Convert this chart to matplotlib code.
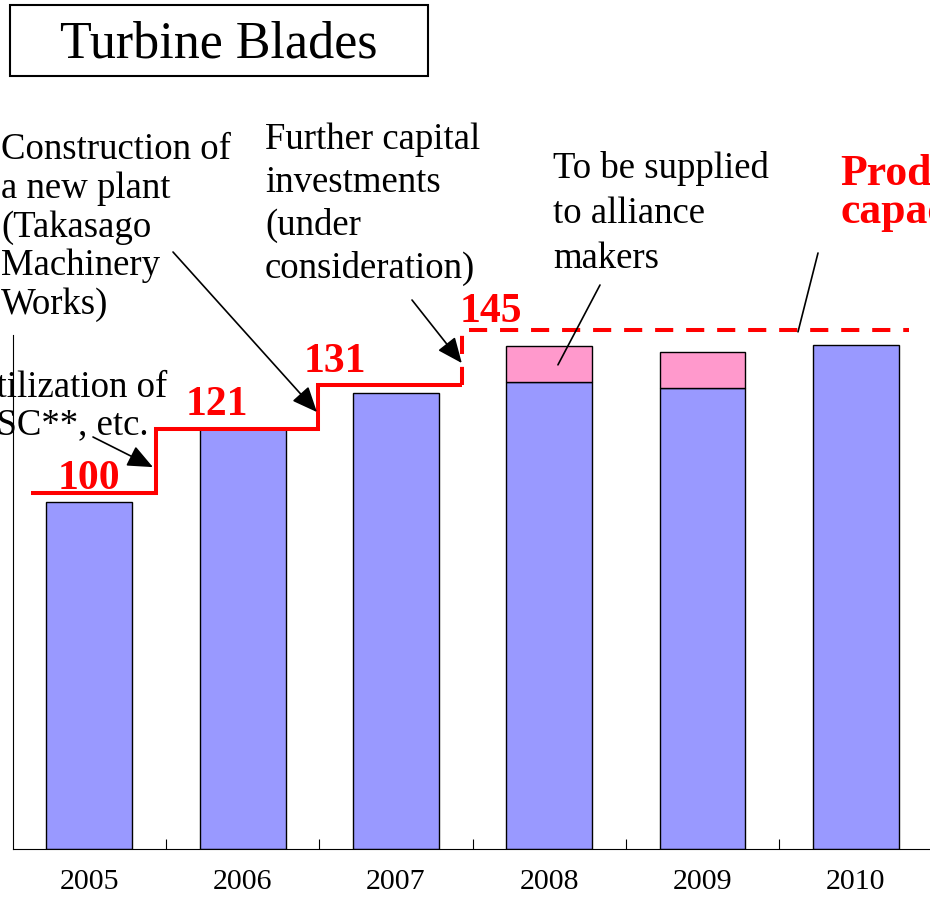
import matplotlib
matplotlib.use("Agg")
import matplotlib.pyplot as plt
from matplotlib.patches import Rectangle
import numpy as np

plt.rcParams["font.family"] = ["Liberation Serif", "DejaVu Serif"]

# data (index units)
years = ["2005", "2006", "2007", "2008", "2009", "2010"]
own_supply = [97.7, 118.0, 128.2, 131.5, 129.6, 141.8]
alliance_supply = [0, 0, 0, 10.1, 10.3, 0]
capacity_level = [100, 118.1, 130.5, 146.0]
capacity_label = ["100", "121", "131", "145"]
step_edges = [-0.38, 0.435, 1.49, 2.43, 5.35]

W, H = 930, 897


def fxy(px, py):
    # pixel position (from top-left) -> figure fraction
    return px / W, 1 - py / H


def block(lines, px, py0, gap, **kw):
    for i, s in enumerate(lines):
        x, y = fxy(px, py0 + i * gap)
        fig.text(x, y, s, va="baseline", ha="left", **kw)


fig = plt.figure(figsize=(W / 100, H / 100), dpi=100)
ax = fig.add_axes([12.65 / W, (H - 848.5) / H, 6 * 153.3 / W, (848.5 - 335) / H])

x = np.arange(len(years))
ax.bar(x, own_supply, width=0.56, color="#9999FF", edgecolor="black", linewidth=1)
idx = [i for i, v in enumerate(alliance_supply) if v > 0]
ax.bar(x[idx], [alliance_supply[i] for i in idx], bottom=[own_supply[i] for i in idx],
       width=0.56, color="#FF99CC", edgecolor="black", linewidth=1)

# capacity line: solid steps, then dashed plan
ax.stairs(capacity_level[:3], step_edges[:4], baseline=None, color="red",
          linewidth=2.9, joinstyle="miter", clip_on=False)
ax.plot([step_edges[3], step_edges[3], step_edges[4]],
        [capacity_level[2], capacity_level[3], capacity_level[3]],
        color="red", linewidth=2.9, dashes=(4.5, 3.2), clip_on=False)

label_pos = [(0.0, 101.2), (0.83, 122.1), (1.60, 134.2), (2.62, 148.2)]
for (lx, ly), s in zip(label_pos, capacity_label):
    ax.text(lx, ly, s, ha="center", va="baseline", color="red",
            fontsize=30, fontweight="bold", clip_on=False)

ax.set_xlim(-0.5, 5.5)
ax.set_ylim(0, (848.5 - 335) / 3.551)
ax.set_xticks(x)
ax.set_xticklabels(years, fontsize=21.5)
ax.set_xticks(np.arange(0.5, 6, 1), minor=True)
ax.tick_params(axis="x", which="major", length=0, pad=15)
ax.tick_params(axis="x", which="minor", direction="in", length=7.2, width=0.8)
ax.set_yticks([])
for side in ["top", "right"]:
    ax.spines[side].set_visible(False)
ax.spines["left"].set_linewidth(0.8)
ax.spines["bottom"].set_linewidth(0.8)

# title box
bx, by = fxy(10, 76)
fig.patches.append(Rectangle((bx, by), 418 / W, 71 / H, transform=fig.transFigure,
                             fill=False, edgecolor="black", linewidth=1.5))
tx, ty = fxy(219, 57)
fig.text(tx, ty, "Turbine Blades", ha="center", va="baseline", fontsize=37.5)

# annotations
fs = 26.5
block(["Construction of", "a new plant", "(Takasago", "Machinery", "Works)"], 1, 159, 38.7, fontsize=fs)
block(["Utilization of", "USC**, etc."], -30, 397, 37, fontsize=fs)
block(["Further capital", "investments", "(under", "consideration)"], 265, 149, 43, fontsize=fs)
block(["To be supplied", "to alliance", "makers"], 553, 178, 45, fontsize=fs)
block(["Production", "capacity"], 840, 185, 38, fontsize=31.5, fontweight="bold", color="red")

arrow = dict(arrowstyle="-|>,head_length=0.65,head_width=0.28", color="black",
             lw=1.2, shrinkA=0, shrinkB=0, mutation_scale=24)
plain = dict(arrowstyle="-", color="black", lw=1.2, shrinkA=0, shrinkB=0)
ax.annotate("", xy=(0.415, 107.4), xytext=fxy(93, 437), textcoords="figure fraction",
            arrowprops=arrow, annotation_clip=False)
ax.annotate("", xy=(1.485, 122.9), xytext=fxy(173, 252), textcoords="figure fraction",
            arrowprops=arrow, annotation_clip=False)
ax.annotate("", xy=(2.43, 136.7), xytext=fxy(412, 300), textcoords="figure fraction",
            arrowprops=arrow, annotation_clip=False)
ax.annotate("", xy=(3.057, 136.2), xytext=fxy(600, 285), textcoords="figure fraction",
            arrowprops=plain, annotation_clip=False)
ax.annotate("", xy=(4.623, 145.5), xytext=fxy(818, 253), textcoords="figure fraction",
            arrowprops=plain, annotation_clip=False)

fig.savefig("out.png", dpi=100)
